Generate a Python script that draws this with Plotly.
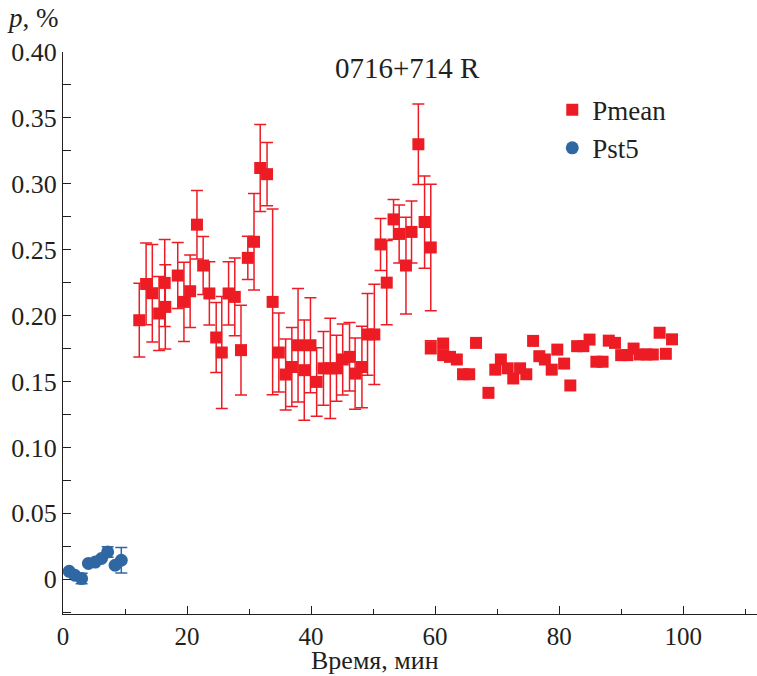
import plotly.graph_objects as go

# Pmean with error bars
t_err = [12.3, 13.4, 14.4, 15.5, 16.4, 16.5, 18.5, 19.5, 20.5, 21.6, 22.6, 23.6, 24.7, 25.6,
         26.7, 27.7, 28.7, 29.8, 30.8, 31.8, 32.9, 33.8, 34.8, 35.9, 36.9, 37.9, 38.9, 39.9,
         40.9, 42.0, 43.1, 44.1, 45.1, 46.2, 47.1, 48.2, 49.1, 50.2, 51.2, 52.2, 53.3, 54.2,
         55.3, 56.2, 57.3, 58.3, 59.3, 59.3]
p_err = [0.1965, 0.224, 0.217, 0.2016, 0.2248, 0.2066, 0.2304, 0.2104, 0.2185, 0.269, 0.238,
         0.2168, 0.1834, 0.172, 0.2168, 0.2142, 0.1738, 0.2438, 0.256, 0.312, 0.3073, 0.2104,
         0.172, 0.1553, 0.161, 0.1775, 0.1586, 0.1775, 0.1497, 0.160, 0.160, 0.160, 0.1667,
         0.1687, 0.156, 0.161, 0.1857, 0.1857, 0.254, 0.225, 0.273, 0.262, 0.238, 0.2635,
         0.330, 0.271, 0.2517, 0.176]
e_err = [0.028, 0.031, 0.037, 0.028, 0.033, 0.032, 0.025, 0.030, 0.0275, 0.026, 0.022, 0.024,
         0.0266, 0.0425, 0.024, 0.0295, 0.034, 0.0165, 0.0366, 0.033, 0.024, 0.0705, 0.030,
         0.027, 0.030, 0.043, 0.038, 0.036, 0.026, 0.028, 0.038, 0.025, 0.027, 0.026, 0.027,
         0.031, 0.031, 0.038, 0.0197, 0.032, 0.015, 0.022, 0.0367, 0.0235, 0.0306, 0.035,
         0.048, 0.005]

# Pmean without error bars
t_mean = [61.3, 61.3, 62.4, 63.5, 64.5, 65.5, 66.6, 68.6, 69.7, 70.6, 71.7, 72.6, 73.7, 74.7,
          75.8, 76.8, 77.7, 78.8, 79.7, 80.8, 81.8, 82.9, 83.9, 84.9, 86.0, 87.0, 88.0, 89.0,
          90.0, 91.0, 92.0, 93.0, 94.1, 95.1, 96.2, 97.2, 98.2]
p_mean = [0.1788, 0.170, 0.1687, 0.1667, 0.1555, 0.1555, 0.1793, 0.1414, 0.159, 0.1667, 0.160,
          0.1523, 0.160, 0.1555, 0.1808, 0.1692, 0.1667, 0.159, 0.1742, 0.1636, 0.147, 0.1768,
          0.1768, 0.1818, 0.165, 0.165, 0.181, 0.1793, 0.170, 0.170, 0.175, 0.1705, 0.1705,
          0.1705, 0.187, 0.171, 0.182]

# Pst5
t_st5 = [1.0, 1.9, 3.0, 4.1, 5.2, 6.2, 7.2, 8.4, 9.4]
p_st5 = [0.006, 0.003, 0.0005, 0.012, 0.013, 0.0157, 0.0207, 0.0106, 0.0144]
e_st5 = [0.0, 0.0, 0.004, 0.0, 0.0, 0.0, 0.004, 0.0, 0.0097]

y_ticks = [0, 0.05, 0.10, 0.15, 0.20, 0.25, 0.30, 0.35, 0.40]
y_ticktext = ["0", "0.05", "0.10", "0.15", "0.20", "0.25", "0.30", "0.35", "0.40"]
x_ticks = [0, 20, 40, 60, 80, 100]
x_ticktext = ["0", "20", "40", "60", "80", "100"]

RED = "#ED1C24"
BLUE = "#2F67A3"
TXT = "#231F20"
FONT = "Liberation Serif, Times New Roman, serif"

fig = go.Figure()
fig.add_trace(go.Scatter(
    x=t_err, y=p_err, mode="markers", name="Pmean", legendgroup="pm",
    marker=dict(symbol="square", size=12, color=RED),
    error_y=dict(type="data", array=e_err, visible=True, color=RED, thickness=1.5, width=6),
))
fig.add_trace(go.Scatter(
    x=t_mean, y=p_mean, mode="markers", name="Pmean", legendgroup="pm", showlegend=False,
    marker=dict(symbol="square", size=12, color=RED),
))
fig.add_trace(go.Scatter(
    x=t_st5, y=p_st5, mode="markers", name="Pst5",
    marker=dict(symbol="circle", size=13, color=BLUE),
    error_y=dict(type="data", array=e_st5, visible=True, color=BLUE, thickness=1.5, width=6),
))

fig.update_layout(
    width=757, height=676,
    margin=dict(l=63, r=0, t=52, b=62),
    plot_bgcolor="white", paper_bgcolor="white",
    font=dict(family=FONT, size=24, color=TXT),
    showlegend=True,
    legend=dict(x=0.705, y=0.94, xanchor="left", yanchor="top",
                bgcolor="rgba(0,0,0,0)", font=dict(family=FONT, size=27, color=TXT),
                itemsizing="trace", tracegroupgap=0),
    xaxis=dict(range=[0, 111.9], showgrid=False, zeroline=False, showline=True,
               linecolor=TXT, linewidth=1.2, ticks="inside", ticklen=8, tickcolor=TXT,
               tickwidth=1.2, tickvals=x_ticks, ticktext=x_ticktext,
               tickfont=dict(family=FONT, size=25, color=TXT),
               minor=dict(dtick=10, tick0=0, ticks="inside", ticklen=5, tickcolor=TXT, tickwidth=1.2)),
    yaxis=dict(range=[-0.0264, 0.40], showgrid=False, zeroline=False, showline=True,
               linecolor=TXT, linewidth=1.2, ticks="inside", ticklen=8, tickcolor=TXT,
               tickwidth=1.2, tickvals=y_ticks, ticktext=y_ticktext,
               tickfont=dict(family=FONT, size=26, color=TXT),
               minor=dict(dtick=0.025, tick0=0, ticks="inside", ticklen=8, tickcolor=TXT, tickwidth=1.2)),
    annotations=[
        dict(text="0716+714 R", xref="paper", yref="paper", x=0.4957, y=0.9715,
             showarrow=False, xanchor="center", yanchor="middle",
             font=dict(family=FONT, size=29, color=TXT)),
        dict(text="<i>p</i>, %", xref="paper", yref="paper", x=-0.084, y=1.06,
             showarrow=False, xanchor="left", yanchor="middle",
             font=dict(family=FONT, size=27, color=TXT)),
        dict(text="Время, мин", xref="paper", yref="paper", x=0.4496, y=-0.082,
             showarrow=False, xanchor="center", yanchor="middle",
             font=dict(family=FONT, size=26, color=TXT)),
    ],
)

fig.write_html("out.html", config={"displayModeBar": False},
               post_script="document.body.style.margin='0';document.body.style.overflow='hidden';")
